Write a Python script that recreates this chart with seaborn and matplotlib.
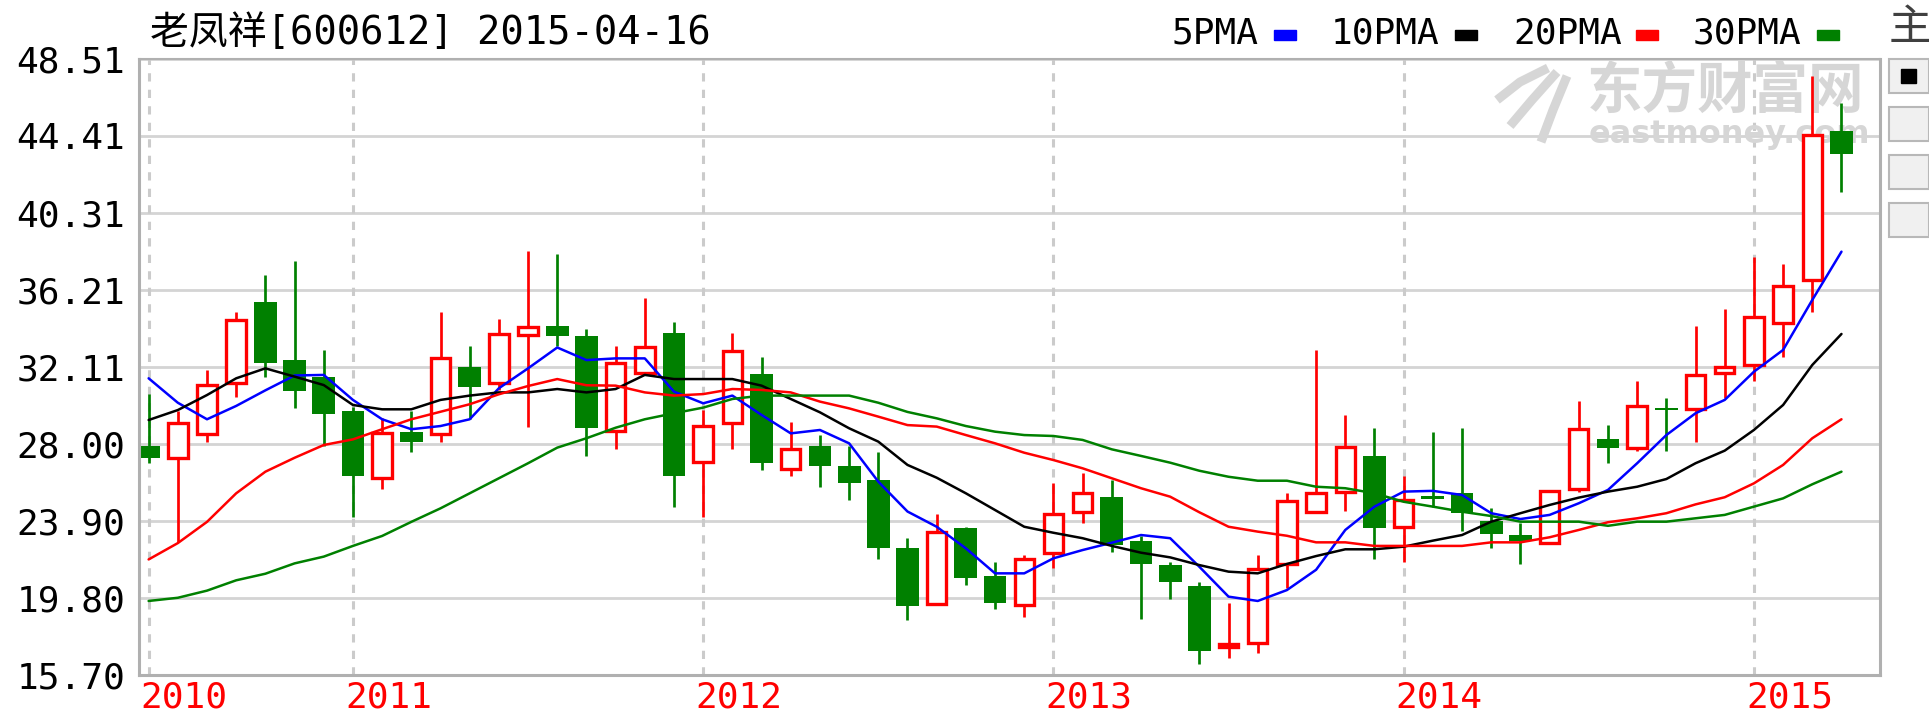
import numpy as np
import pandas as pd
import matplotlib
matplotlib.use('Agg')
import matplotlib.pyplot as plt
import matplotlib.transforms as mtransforms
from matplotlib.patches import Rectangle
from matplotlib.lines import Line2D
import seaborn as sns

# Datos mensuales (jun 2010 - abr 2015)
opens  = [27.89, 27.26, 28.54, 31.22, 35.55, 32.46, 31.58, 29.75, 26.20, 28.62,
          28.53, 32.08, 31.26, 33.80, 34.27, 33.74, 28.69, 31.79, 33.90, 27.05,
          29.09, 31.72, 26.65, 27.89, 26.82, 26.08, 22.47, 19.46, 23.51, 20.97,
          19.43, 22.18, 24.36, 25.16, 22.83, 21.55, 20.44, 17.19, 17.42, 21.61,
          24.36, 25.46, 27.36, 23.56, 25.20, 25.37, 23.91, 23.14, 22.71, 25.60,
          28.24, 27.80, 29.92, 29.84, 31.76, 32.20, 34.42, 36.72, 44.65]
highs  = [30.65, 29.75, 31.93, 35.02, 36.99, 37.73, 33.00, 29.98, 29.39, 29.77,
          35.00, 33.21, 34.65, 38.26, 38.11, 34.11, 33.23, 35.76, 34.47, 29.80,
          33.90, 32.62, 29.15, 28.47, 27.89, 27.55, 22.98, 24.27, 23.55, 21.70,
          22.09, 25.92, 26.47, 26.08, 23.11, 21.70, 20.63, 19.55, 22.09, 25.37,
          33.00, 29.54, 28.84, 26.29, 28.62, 28.84, 24.61, 23.81, 25.55, 30.28,
          29.00, 31.35, 30.43, 34.27, 35.18, 37.95, 37.57, 47.59, 46.16]
lows   = [27.00, 22.79, 28.12, 30.48, 31.58, 29.91, 27.90, 24.12, 25.58, 27.58,
          28.12, 29.34, 30.87, 28.88, 33.21, 27.36, 27.74, 31.70, 24.66, 24.12,
          27.74, 26.61, 26.31, 25.72, 25.01, 21.87, 18.63, 19.40, 20.49, 19.20,
          18.80, 21.38, 23.77, 22.26, 18.66, 19.74, 16.27, 16.62, 16.85, 20.31,
          24.30, 24.44, 21.89, 21.73, 24.66, 23.36, 22.47, 21.59, 22.65, 25.42,
          27.00, 27.62, 27.62, 28.12, 30.46, 31.36, 32.64, 35.03, 41.42]
closes = [27.23, 29.13, 31.15, 34.61, 32.32, 30.83, 29.57, 26.31, 28.60, 28.12,
          32.59, 31.04, 33.86, 34.24, 33.76, 28.86, 32.29, 33.17, 26.31, 28.95,
          32.96, 27.00, 27.71, 26.82, 25.93, 22.47, 19.39, 23.33, 20.85, 19.55,
          21.86, 24.25, 25.37, 22.62, 21.59, 20.67, 16.99, 17.35, 21.32, 24.96,
          25.37, 27.85, 23.54, 25.01, 25.05, 24.31, 23.19, 22.85, 25.49, 28.79,
          27.76, 30.02, 29.80, 31.67, 32.08, 34.77, 36.40, 44.44, 43.41]

ma5  = [31.49, 30.19, 29.31, 30.02, 30.85, 31.64, 31.67, 30.34, 29.31, 28.78,
        28.95, 29.31, 30.96, 32.02, 33.13, 32.46, 32.55, 32.55, 30.78, 30.16,
        30.57, 29.54, 28.56, 28.74, 28.03, 25.99, 24.40, 23.59, 22.44, 21.11,
        21.11, 21.91, 22.35, 22.74, 23.15, 22.98, 21.46, 19.87, 19.64, 20.22,
        21.30, 23.42, 24.66, 25.46, 25.50, 25.28, 24.31, 24.00, 24.22, 24.84,
        25.55, 26.97, 28.47, 29.63, 30.34, 31.84, 33.00, 35.66, 38.23]
ma10 = [29.27, 29.80, 30.60, 31.49, 32.02, 31.58, 31.13, 30.07, 29.84, 29.84,
        30.34, 30.57, 30.74, 30.74, 30.92, 30.74, 30.92, 31.67, 31.45, 31.45,
        31.45, 31.10, 30.39, 29.68, 28.83, 28.12, 26.88, 26.20, 25.37, 24.48,
        23.59, 23.27, 22.98, 22.57, 22.21, 21.96, 21.55, 21.20, 21.11, 21.61,
        22.03, 22.39, 22.39, 22.53, 22.85, 23.15, 23.86, 24.31, 24.75, 25.14,
        25.46, 25.72, 26.13, 26.97, 27.64, 28.74, 30.07, 32.20, 33.85]
ma20 = [21.85, 22.72, 23.85, 25.37, 26.52, 27.26, 27.94, 28.24, 28.78, 29.31,
        29.71, 30.11, 30.64, 31.08, 31.45, 31.12, 31.10, 30.74, 30.57, 30.65,
        30.92, 30.87, 30.74, 30.25, 29.89, 29.45, 29.00, 28.92, 28.47, 28.03,
        27.53, 27.14, 26.70, 26.17, 25.64, 25.19, 24.36, 23.59, 23.33, 23.11,
        22.76, 22.76, 22.57, 22.57, 22.57, 22.57, 22.76, 22.76, 23.03, 23.42,
        23.83, 24.04, 24.31, 24.78, 25.16, 25.90, 26.88, 28.30, 29.31]
ma30 = [19.64, 19.81, 20.19, 20.74, 21.09, 21.64, 22.00, 22.57, 23.10, 23.85,
        24.57, 25.37, 26.17, 26.97, 27.80, 28.30, 28.86, 29.31, 29.63, 29.93,
        30.39, 30.57, 30.57, 30.57, 30.57, 30.19, 29.70, 29.36, 28.95, 28.65,
        28.47, 28.42, 28.21, 27.71, 27.36, 27.00, 26.57, 26.25, 26.04, 26.04,
        25.72, 25.64, 25.37, 24.92, 24.66, 24.39, 24.16, 23.86, 23.86, 23.86,
        23.64, 23.86, 23.86, 24.04, 24.22, 24.66, 25.10, 25.85, 26.52]

year_idx    = [0, 7, 19, 31, 43, 55]
year_labels = ['2010', '2011', '2012', '2013', '2014', '2015']
y_ticks  = [15.70, 19.80, 23.90, 28.00, 32.11, 36.21, 40.31, 44.41, 48.51]
y_labels = ['15.70', '19.80', '23.90', '28.00', '32.11', '36.21', '40.31', '44.41', '48.51']

ma_names  = ['5PMA', '10PMA', '20PMA', '30PMA']
ma_colors = ['#0000ff', '#000000', '#ff0000', '#008000']

title = '老凤祥[600612] 2015-04-16'

GREEN = '#008000'
RED = '#ff0000'

df = pd.DataFrame({'open': opens, 'high': highs, 'low': lows, 'close': closes})
df['x'] = np.arange(len(df))

sns.set_style('white')
plt.rcParams['font.family'] = ['DejaVu Sans Mono', 'Noto Sans CJK SC']

W, H = 1929, 726
def fx(px):
    return px / W
def fy(py):
    return 1 - py / H

fig = plt.figure(figsize=(W / 100, H / 100), dpi=100)
ax = fig.add_axes([fx(139), fy(675), (1880 - 139) / W, (675 - 58.5) / H])

# Marca de agua
wm = '#d6d6d6'
ax.text(fx(1587), fy(92), '东方财富网', fontsize=40, color=wm, weight='bold',
        family=['Noto Sans CJK SC'], va='center', ha='left',
        transform=fig.transFigure, zorder=1)
ax.text(fx(1589), fy(134), 'eastmoney.com', fontsize=23, color=wm, weight='bold',
        family=['DejaVu Sans'], va='center', ha='left',
        transform=fig.transFigure, zorder=1)
for pts in [[(1497, 100), (1520, 82), (1548, 68)],
            [(1510, 126), (1532, 100), (1557, 72)],
            [(1541, 142), (1553, 110), (1567, 76)]]:
    xs = [fx(p[0]) for p in pts]
    ys = [fy(p[1]) for p in pts]
    ax.add_line(Line2D(xs, ys, transform=fig.transFigure, color=wm, lw=6.5,
                       solid_capstyle='butt', zorder=1))

# Rejilla
ax.yaxis.grid(True, color='#d4d4d4', lw=2)
ax.set_axisbelow(True)
for xi in year_idx:
    ax.axvline(xi, color='#cbcbcb', lw=2.2, dashes=(2.7, 2.7), zorder=0.6)

# Velas
down = df[df['close'] < df['open']]
up = df[df['close'] >= df['open']]
ax.vlines(down['x'], down['low'], down['high'], color=GREEN, lw=1.95, zorder=2)
ax.bar(down['x'], down['open'] - down['close'], bottom=down['close'], width=0.78,
       color=GREEN, lw=0, zorder=2.1)
ax.vlines(up['x'], up['close'], up['high'], color=RED, lw=1.95, zorder=2)
ax.vlines(up['x'], up['low'], up['open'], color=RED, lw=1.95, zorder=2)
ax.bar(up['x'], up['close'] - up['open'], bottom=up['open'], width=0.665,
       facecolor='white', edgecolor=RED, lw=2.4, zorder=2.1)

# Medias moviles
for vals, c in zip([ma5, ma10, ma20, ma30], ma_colors):
    sns.lineplot(x=df['x'], y=vals, color=c, lw=1.8, ax=ax, zorder=3, legend=False)

ax.set_xlim(-0.33, 59.32)
ax.set_ylim(15.70, 48.51)
ax.set_xlabel('')
ax.set_ylabel('')

ax.set_yticks(y_ticks)
ax.set_yticklabels(y_labels, fontsize=26, color='black')
ax.tick_params(axis='y', length=0, pad=10)
ax.set_xticks(year_idx)
ax.set_xticklabels(year_labels, fontsize=26, color=RED)
ax.tick_params(axis='x', length=0, pad=4)
offset = mtransforms.ScaledTranslation(-8 / 100, 0, fig.dpi_scale_trans)
for lab in ax.get_xticklabels():
    lab.set_ha('left')
    lab.set_transform(lab.get_transform() + offset)

for side in ['left', 'right', 'bottom', 'top']:
    ax.spines[side].set_visible(True)
    ax.spines[side].set_color('#b0b0b0')
    ax.spines[side].set_linewidth(2.2)
ax.spines['top'].set_linewidth(1.5)

# Titulo y leyenda
fig.text(fx(150), fy(33), title, fontsize=28, va='center', ha='left', color='black')
text_left = [1172, 1331, 1513, 1693]
sq_left = [1274, 1455, 1636, 1817]
for name, c, tl, sl in zip(ma_names, ma_colors, text_left, sq_left):
    fig.text(fx(tl), fy(34), name, fontsize=26, va='center', ha='left', color='black')
    fig.add_artist(Rectangle((fx(sl), fy(40)), 22 / W, 10 / H,
                             transform=fig.transFigure, color=c))

# Botones laterales
fig.text(fx(1889), fy(28), '主', fontsize=31, va='center', ha='left', color='#404040',
         family=['Noto Sans CJK SC'])
for top in [59, 107, 155, 203]:
    fig.add_artist(Rectangle((fx(1889), fy(top + 34)), 40 / W, 34 / H,
                             transform=fig.transFigure, facecolor='#f0f0f0',
                             edgecolor='#b8b8b8', lw=1.5))
fig.add_artist(Rectangle((fx(1901), fy(83)), 15 / W, 14 / H,
                         transform=fig.transFigure, color='black'))

fig.savefig('out.png', dpi=100)
